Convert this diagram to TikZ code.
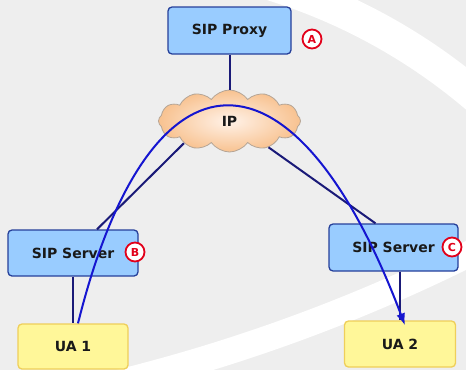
\documentclass[tikz,border=0pt]{standalone}
\usepackage{fontspec}
\setmainfont{DejaVu Sans}
\usetikzlibrary{arrows.meta,shapes.symbols}

\definecolor{bgray}{HTML}{EEEEEE}
\definecolor{boxblue}{HTML}{99CCFF}
\definecolor{boxedge}{HTML}{26409A}
\definecolor{uafill}{HTML}{FFF799}
\definecolor{uaedge}{HTML}{EFCF5A}
\definecolor{linknavy}{HTML}{1A1A78}
\definecolor{flowblue}{HTML}{1515D0}
\definecolor{markred}{HTML}{E2001A}
\definecolor{cloudout}{HTML}{F8C290}
\definecolor{cloudin}{HTML}{FFF2E8}
\definecolor{cloudedge}{HTML}{B5A596}

\begin{document}
\begin{tikzpicture}[x=1pt,y=-1pt,>=Latex,
  label font/.style={font=\fontsize{14}{16}\selectfont\bfseries,text=black!90},
  server/.style={draw=boxedge,fill=boxblue,line width=1.3pt,rounded corners=4pt,
    minimum width=130pt,minimum height=46pt,label font},
  agent/.style={draw=uaedge,fill=uafill,line width=1.3pt,rounded corners=4pt,
    minimum width=111pt,minimum height=46pt,label font},
  badge/.style={circle,draw=markred,fill=white,line width=1.8pt,minimum size=19pt,
    inner sep=0pt,text=markred,font=\fontsize{11}{12}\selectfont\bfseries},
  link/.style={draw=linknavy,line width=2pt}]
  % backdrop with the two white swooshes
  \fill[bgray] (0,0) rectangle (466,370);
  \begin{scope}
    \clip (0,0) rectangle (466,370);
    \fill[white,even odd rule] (100,540) circle[radius=598] (100,540) circle[radius=565];
    \fill[white,even odd rule] (-296,-1287) circle[radius=1733] (-296,-1287) circle[radius=1707];
  \end{scope}

  \node[server,minimum width=123pt,minimum height=47pt] (proxy) at (229.5,30.5) {SIP Proxy};
  \node[cloud,cloud puffs=12,cloud puff arc=110,aspect=2.3,draw=cloudedge,line width=0.8pt,
    inner color=cloudin,outer color=cloudout,minimum width=142pt,minimum height=62pt,
    inner sep=0pt,label font] (ip) at (229.5,121) {IP};
  \node[server] (srvB) at (73,253) {SIP Server};
  \node[server,minimum width=129pt,minimum height=47pt] (srvC) at (393.5,247.5) {SIP Server};
  \node[agent,minimum width=110pt,minimum height=45pt] (ua1) at (73,346.5) {UA 1};
  \node[agent] (ua2) at (400,344) {UA 2};

  \node[badge] (markA) at (312,39) {A};
  \node[badge] (markB) at (135,252) {B};
  \node[badge] (markC) at (452,247) {C};

  \draw[link] (proxy) -- (ip);
  \draw[link] ([xshift=24pt]srvB.north) -- (ip.206);
  \draw[link] ([xshift=-18pt]srvC.north) -- (ip.-34);
  \draw[link] (srvB) -- (ua1);
  \draw[link] (srvC.south -| ua2) -- (ua2.north);

  % signalling path from UA 1 over the IP cloud to UA 2
  \draw[flowblue,line width=2pt,->] ([xshift=5pt]ua1.north)
    .. controls (150,34) and (295,34) .. ([xshift=5pt,yshift=-5pt]ua2.north);
\end{tikzpicture}
\end{document}
